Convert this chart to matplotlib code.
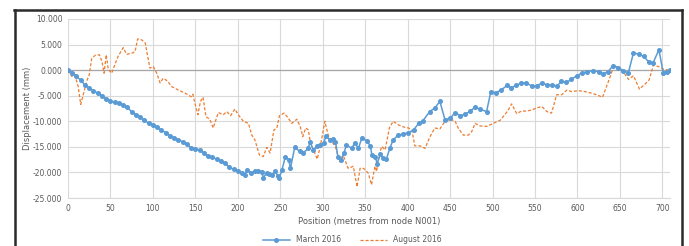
import matplotlib
matplotlib.use('Agg')
import matplotlib.pyplot as plt
from matplotlib.lines import Line2D

# March 2016 readings (position m, displacement mm)
march_pos = [0, 5, 10, 15, 20, 25, 30, 35, 40, 45, 50, 55, 60, 65, 70, 75, 80, 85, 90, 95,
             100, 105, 110, 115, 120, 125, 130, 135, 140, 145, 150, 155, 160, 165, 170, 175,
             180, 185, 190, 195, 200, 205, 208, 211, 216, 220, 224, 228, 230, 234, 237, 240,
             244, 247, 249, 252, 256, 260, 262, 267, 273, 277, 283, 285, 289, 293, 297, 301,
             304, 308, 312, 315, 318, 322, 325, 328, 334, 338, 342, 346, 352, 356, 358, 362,
             364, 368, 371, 375, 379, 383, 389, 395, 401, 407, 413, 418, 426, 432, 438, 444,
             450, 456, 462, 468, 474, 479, 485, 493, 498, 504, 510, 517, 522, 528, 534, 540,
             546, 552, 558, 564, 570, 576, 581, 587, 593, 599, 605, 611, 618, 625, 630, 636,
             642, 648, 654, 660, 666, 672, 678, 684, 689, 696, 701, 705, 709]
march_disp = [0.0, -0.5, -1.2, -2.0, -2.9, -3.5, -4.0, -4.5, -5.0, -5.6, -6.0, -6.3, -6.5, -6.8,
              -7.2, -8.2, -8.7, -9.1, -9.8, -10.4, -10.8, -11.2, -11.7, -12.2, -12.8, -13.2,
              -13.6, -14.0, -14.5, -15.2, -15.4, -15.6, -16.2, -16.8, -17.0, -17.4, -17.8,
              -18.2, -19.0, -19.4, -19.7, -20.2, -20.5, -19.5, -20.1, -19.8, -19.7, -19.9,
              -21.0, -20.1, -20.3, -20.5, -19.8, -20.6, -21.0, -19.5, -16.9, -17.5, -19.2,
              -15.1, -15.9, -16.2, -15.3, -14.0, -15.6, -14.9, -14.6, -14.3, -12.8, -13.6,
              -13.4, -14.0, -17.0, -17.5, -16.2, -14.6, -15.3, -14.2, -15.3, -13.3, -13.8,
              -14.8, -16.6, -16.9, -18.3, -16.4, -17.2, -17.4, -15.3, -13.6, -12.7, -12.5,
              -12.2, -11.7, -10.4, -9.9, -8.1, -7.4, -6.1, -9.7, -9.4, -8.3, -8.9, -8.6, -8.0,
              -7.3, -7.6, -8.1, -4.2, -4.4, -3.9, -3.0, -3.4, -3.0, -2.5, -2.5, -3.1, -3.1,
              -2.5, -2.9, -2.9, -3.1, -2.2, -2.4, -1.8, -1.1, -0.6, -0.3, -0.1, -0.3, -0.7,
              -0.3, 0.9, 0.5, -0.1, -0.5, 3.4, 3.1, 2.7, 1.6, 1.4, 4.0, -0.5, -0.3, 0.1]

# August 2016 readings
aug_pos = [0, 4.4, 8, 12, 15, 18, 22, 25, 28, 32, 37, 40, 42.5, 45, 47.5, 51.5, 55, 59, 65, 69,
           75, 79, 82, 87, 91, 93.5, 96.5, 100.5, 104.5, 108.5, 112, 117, 122, 130, 138, 145,
           147, 150, 153, 156, 159, 162.5, 167, 171, 177, 183, 187, 191.5, 196.5, 200.5, 206.5,
           212.5, 216.5, 220, 225.5, 230, 234, 238, 242.5, 246, 249, 254.5, 259.5, 263.5,
           269.5, 273.5, 276.5, 280, 283, 286, 290, 293.5, 297.5, 302.5, 306.5, 310, 315, 320,
           324, 330, 336, 340.5, 344, 348, 353.5, 357.5, 361.5, 363.5, 366.5, 369.5, 373.5,
           378.5, 383, 389, 395, 401, 405, 408.5, 414.5, 420.5, 425.5, 432, 438, 444, 452, 456,
           459.5, 465.5, 471.5, 475.5, 479.5, 485, 493, 501, 509, 514.5, 518.5, 522.5, 528.5,
           534, 540, 546, 552, 558, 564, 569.5, 575.5, 581.5, 587.5, 593.5, 601, 609, 616.5,
           622.5, 629.5, 636.5, 642.5, 648, 654, 660, 666, 673, 678.5, 684.5, 689.5, 695.5,
           701, 707]
aug_disp = [-0.1, -1.2, -0.9, -3.2, -6.7, -4.8, -2.2, -0.9, 2.3, 2.9, 3.0, 1.7, -0.6, 3.0, 0.1,
            -0.6, 1.0, 2.7, 4.4, 3.1, 3.3, 3.6, 6.1, 5.9, 5.3, 3.0, 0.4, 0.7, -0.6, -2.5, -1.6,
            -2.1, -3.2, -3.9, -4.5, -5.2, -4.7, -6.8, -8.7, -6.1, -5.3, -9.1, -9.6, -11.3, -8.3,
            -8.7, -8.1, -8.9, -7.6, -8.7, -10.0, -10.4, -12.7, -13.6, -16.6, -16.9, -15.1,
            -16.2, -11.7, -11.3, -8.9, -8.4, -9.4, -10.4, -9.6, -11.0, -13.0, -11.3, -11.7,
            -14.6, -15.9, -17.4, -14.6, -10.0, -12.7, -13.8, -15.0, -17.9, -16.6, -19.2, -18.8,
            -22.8, -19.2, -19.2, -20.1, -22.4, -18.8, -19.8, -16.6, -14.9, -15.6, -11.3, -10.0,
            -10.7, -11.1, -11.3, -11.7, -14.8, -14.8, -15.3, -13.3, -11.3, -11.5, -10.0, -9.7,
            -10.0, -11.3, -12.7, -12.7, -12.0, -10.4, -10.9, -11.0, -10.4, -9.8, -8.7, -7.8,
            -6.6, -8.5, -8.0, -8.0, -7.8, -7.4, -7.1, -8.1, -8.4, -4.8, -4.8, -3.9, -4.2, -4.0,
            -4.2, -4.5, -4.8, -5.3, -2.2, 0.6, 0.4, -0.3, -1.8, -1.1, -3.7, -2.9, -1.9, 1.0,
            0.7, 0.2, 0.0]

y_ticks = [10, 5, 0, -5, -10, -15, -20, -25]
x_ticks = list(range(0, 701, 50))

txt = '#595959'
grid = '#d9d9d9'

fig = plt.figure(figsize=(6.89, 2.46), dpi=100)
ax = fig.add_axes([0.0987, 0.195, 0.8737, 0.7278])

ax.plot(march_pos, march_disp, color='#5B9BD5', lw=1.1, marker='o', ms=2.6,
        label='March 2016', zorder=3)
ax.plot(aug_pos, aug_disp, color='#ED7D31', lw=0.9, ls=(0, (2.5, 1.5)),
        label='August 2016', zorder=2)

ax.set_xlim(0, 709)
ax.set_ylim(-25, 10)
ax.set_xticks(x_ticks)
ax.set_yticks(y_ticks)
ax.set_yticklabels([f'{v:.3f}' for v in y_ticks])
ax.tick_params(length=0, labelsize=5.5, colors=txt, pad=4)
ax.grid(True, color=grid, lw=0.8)
ax.set_axisbelow(True)
ax.axhline(0, color='#a6a6a6', lw=0.9, zorder=1)
for s in ['top', 'right', 'left']:
    ax.spines[s].set_visible(False)
ax.spines['bottom'].set_color(grid)

ax.set_xlabel('Position (metres from node N001)', fontsize=6, color=txt, labelpad=3)
ax.set_ylabel('Displacement (mm)', fontsize=6, color=txt, labelpad=1)

fig.legend(loc='center', bbox_to_anchor=(0.511, 0.025), ncol=2, frameon=False,
           fontsize=5.5, labelcolor=txt, handlelength=3.5, columnspacing=2.5)

# dark document frame around the chart
W, H = 689, 246
fr = dict(color='#2b2b2b', lw=1.8, transform=fig.transFigure)
fig.add_artist(Line2D([14 / W, 682 / W], [1 - 10 / H, 1 - 10 / H], **fr))
fig.add_artist(Line2D([15 / W, 15 / W], [0, 1 - 10 / H], **fr))
fig.add_artist(Line2D([682 / W, 682 / W], [0, 1 - 10 / H], **fr))

fig.savefig('out.png', dpi=100)
plt.close()
